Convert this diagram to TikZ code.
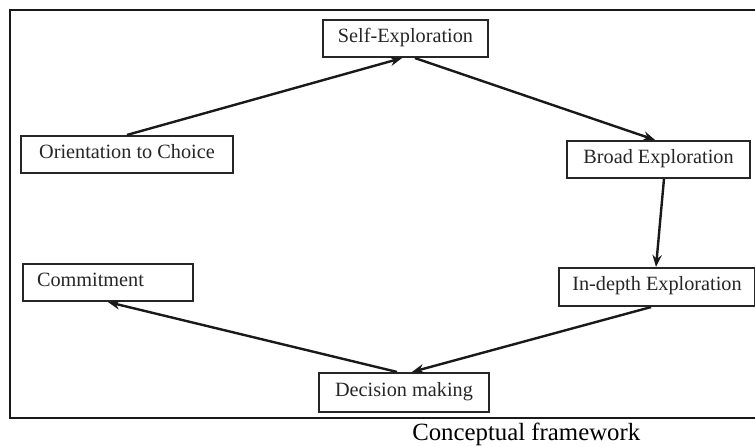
\documentclass[tikz,border=0pt]{standalone}
\usepackage{fontspec}
\setmainfont{Liberation Serif}
\usetikzlibrary{arrows.meta}
\begin{document}
\begin{tikzpicture}[x=0.75pt,y=-0.75pt,
  box/.style={draw=black!85, line width=1.6pt, fill=white, text=black!85,
    font=\fontsize{15.2}{18}\selectfont, text height=0.75em, text depth=0.2em,
    inner sep=0pt, minimum height=27.75pt},
  link/.style={line width=1.8pt, black!90, -{Stealth[length=9pt,width=7pt]}}]
\clip (0,0) rectangle (755,446);
\draw[line width=1.6pt, black!90] (10,10) rectangle (775,418);
\node[box, minimum width=123.75pt] (self) at (405.5,38.5) {Self-Exploration};
\node[box, minimum width=159pt] (orient) at (127,154.5) {Orientation to Choice};
\node[box, minimum width=137.25pt] (broad) at (658.5,159.5) {Broad Exploration};
\node[box, minimum width=147pt, minimum height=28.5pt] (indepth) at (657,287) {In-depth Exploration};
\node[box, text width=106.5pt, inner xsep=10.5pt, align=left] (commit) at (108,282.5) {Commitment};
\node[box, minimum width=127.5pt, minimum height=29.25pt] (decision) at (404,392.5) {Decision making};
\node[anchor=base west, font=\fontsize{18.6}{22}\selectfont, inner sep=0pt] (cap) at (412,440) {Conceptual framework};
\draw[link] (orient.north) -- ([xshift=-2.6pt]self.south);
\draw[link] ([xshift=7.1pt]self.south) -- ([xshift=-2.6pt]broad.north);
\draw[link] ([xshift=4.1pt]broad.south) -- ([xshift=-0.75pt]indepth.north);
\draw[link] ([xshift=-4.5pt]indepth.south) -- ([xshift=6pt]decision.north);
\draw[link] ([xshift=-5.25pt]decision.north) -- (commit.south);
\end{tikzpicture}
\end{document}
